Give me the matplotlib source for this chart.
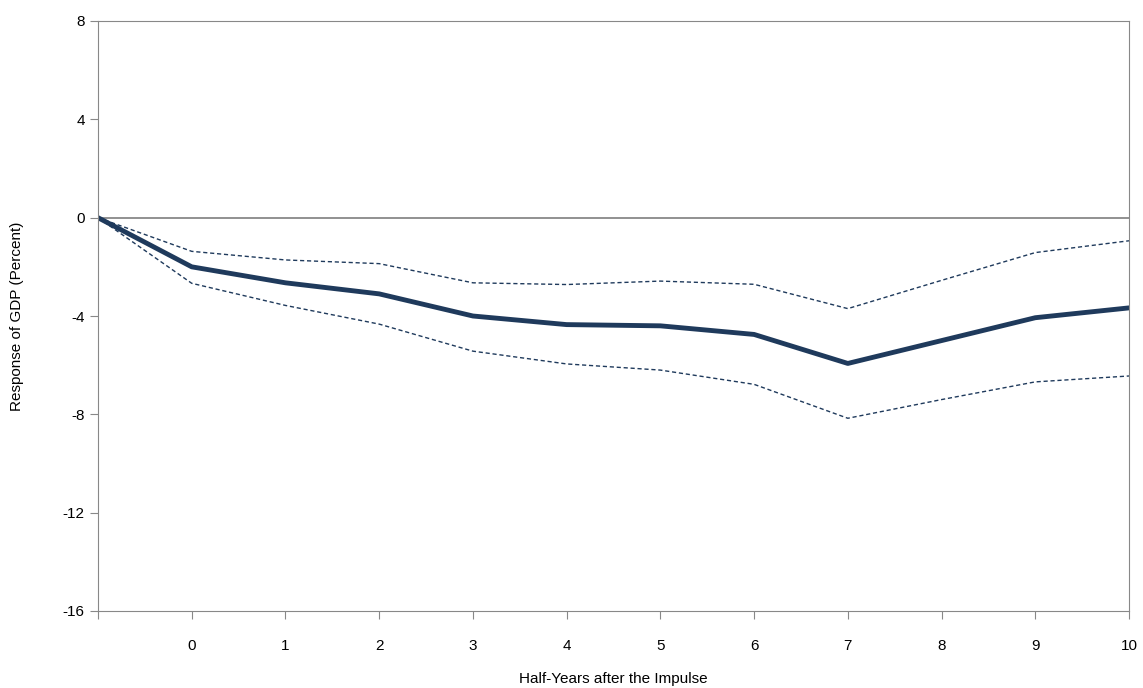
import matplotlib
matplotlib.use('Agg')
import matplotlib.pyplot as plt

# half-years after the impulse (-1 is the unlabeled start)
x = [-1, 0, 1, 2, 3, 4, 5, 6, 7, 8, 9, 10]
response = [0, -2.0, -2.65, -3.1, -4.0, -4.35, -4.4, -4.75, -5.93, -5.0, -4.07, -3.67]
upper = [0, -1.37, -1.72, -1.87, -2.65, -2.72, -2.58, -2.71, -3.70, -2.55, -1.42, -0.94]
lower = [0, -2.67, -3.57, -4.33, -5.43, -5.95, -6.2, -6.78, -8.16, -7.4, -6.68, -6.44]
xtick_labels = [''] + [str(i) for i in range(11)]

plt.rcParams['font.family'] = ['Liberation Sans', 'DejaVu Sans']
plt.rcParams['axes.unicode_minus'] = False
fig = plt.figure(figsize=(11.43, 6.88), dpi=100)
ax = fig.add_axes([98 / 1143, 1 - 611 / 688, (1129 - 98) / 1143, (611 - 21) / 688])

navy = '#1f3a5c'
ax.axhline(0, color='#888888', lw=1.3, zorder=1)
ax.plot(x, upper, color=navy, lw=1, ls=(0, (3, 2)))
ax.plot(x, lower, color=navy, lw=1, ls=(0, (3, 2)))
ax.plot(x, response, color=navy, lw=3.5, solid_capstyle='round')

ax.set_xlim(-1, 10)
ax.set_ylim(-16, 8)
ax.set_xticks(x)
ax.set_xticklabels(xtick_labels)
ax.set_yticks([-16, -12, -8, -4, 0, 4, 8])
for s in ax.spines.values():
    s.set_color('#888888')
ax.tick_params(colors='#888888', labelcolor='black', labelsize=11, length=6, direction='out')
ax.tick_params(axis='x', pad=14)
ax.set_xlabel('Half-Years after the Impulse', fontsize=11, labelpad=14)
ax.set_ylabel('Response of GDP (Percent)', fontsize=11, labelpad=28)

fig.savefig('out.png', dpi=100)
